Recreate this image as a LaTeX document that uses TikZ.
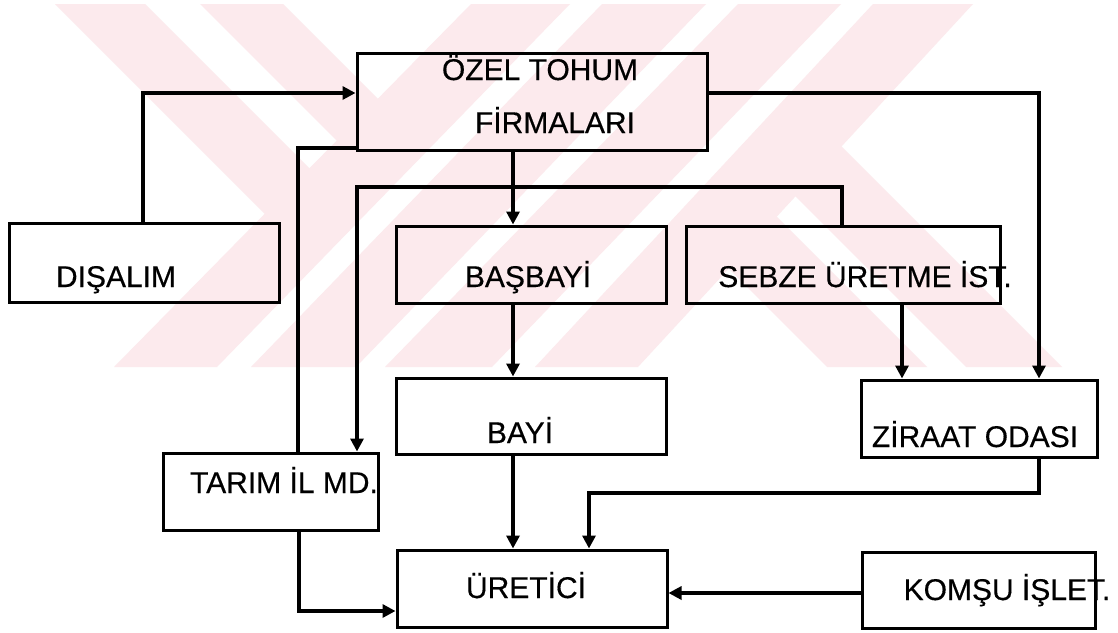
\documentclass[tikz,border=0pt]{standalone}
\usepackage{fontspec}
\setmainfont{Liberation Sans}[FakeBold=0.4]
\usetikzlibrary{arrows.meta,fit}
\definecolor{wm}{RGB}{252,234,237}
\begin{document}
\begin{tikzpicture}[x=0.5pt,y=-0.5pt,
  box/.style={draw=black, line width=1.5pt, inner sep=0pt, rectangle},
  lbl/.style={anchor=base, inner sep=0pt, font=\fontsize{15}{18}\selectfont},
  conn/.style={draw=black, line width=1.6pt},
  arr/.style={conn, -{Triangle[length=6.5pt,width=6.5pt]}},
  wmark/.style={fill=wm, draw=none}]
\useasboundingbox (0,0) rectangle (1118,632);
\fill[white] (0,0) rectangle (1118,632);
% watermark
\fill[wmark] (471,4) -- (570,4) -- (217,367) -- (114,367) -- cycle;
\fill[wmark] (602,4) -- (706,4) -- (356,367) -- (251,367) -- cycle;
\fill[wmark] (738,4) -- (841,4) -- (492,367) -- (385,367) -- cycle;
\fill[wmark] (873,4) -- (973,4) -- (638,367) -- (535,367) -- cycle;
\fill[wmark] (55,4) -- (145,4) -- (319,178) -- (274,223) -- cycle;
\fill[wmark] (200,4) -- (283,4) -- (387.8,108.8) -- (346.6,150.6) -- cycle;
\fill[wmark] (718.7,258.7) -- (766.7,206.7) -- (927,367) -- (827,367) -- cycle;
\fill[wmark] (785.4,186.4) -- (831.5,136.5) -- (1062,367) -- (966,367) -- cycle;
% boxes
\node[box, fit={(357,53) (707,150)}] (ozel) {};
\node[box, fit={(9,223) (279,302)}] (dis) {};
\node[box, fit={(396,226) (666,303)}] (bas) {};
\node[box, fit={(686,226) (1000,303)}] (sebze) {};
\node[box, fit={(396,378) (666,454)}] (bayi) {};
\node[box, fit={(163,453) (378,530)}] (tarim) {};
\node[box, fit={(397,550) (667,627)}] (uretici) {};
\node[box, fit={(861,380) (1097,457)}] (ziraat) {};
\node[box, fit={(862,552) (1095,628)}] (komsu) {};
% labels
\node[lbl] (t1) at (540,80) {ÖZEL TOHUM};
\node[lbl] (t2) at (555,133) {FİRMALARI};
\node[lbl] (t3) at (116,287) {DIŞALIM};
\node[lbl] (t4) at (528,287) {BAŞBAYİ};
\node[lbl] (t5) at (865,287) {SEBZE ÜRETME İST.};
\node[lbl] (t6) at (520,443) {BAYİ};
\node[lbl] (t7) at (284,493) {TARIM İL MD.};
\node[lbl] (t8) at (526,598) {ÜRETİCİ};
\node[lbl] (t9) at (975,447) {ZİRAAT ODASI};
\node[lbl] (t10) at (1007,600) {KOMŞU İŞLET.};
% bend points
\coordinate (c1) at (143,93);
\coordinate (c2) at (298,148);
\coordinate (c3) at (513,0);
\coordinate (c4) at (842,187);
\coordinate (c5) at (357,187);
\coordinate (c6) at (1039,93);
\coordinate (c7) at (902,0);
\coordinate (c8) at (1039,493);
\coordinate (c9) at (589,493);
\coordinate (c10) at (299,611);
\coordinate (c11) at (0,593);
% connectors
\draw[arr] (c1 |- dis.north) -- (c1) -- (c1 -| ozel.west);
\draw[conn] (c2 |- tarim.north) -- (c2) -- (c2 -| ozel.west);
\draw[arr] (c3 |- ozel.south) -- (c3 |- bas.north);
\draw[arr] (c4 |- sebze.north) -- (c4) -- (c5) -- (c5 |- tarim.north);
\draw[arr] (c6 -| ozel.east) -- (c6) -- (c6 |- ziraat.north);
\draw[arr] (c7 |- sebze.south) -- (c7 |- ziraat.north);
\draw[arr] (c3 |- bas.south) -- (c3 |- bayi.north);
\draw[arr] (c3 |- bayi.south) -- (c3 |- uretici.north);
\draw[arr] (c8 |- ziraat.south) -- (c8) -- (c9) -- (c9 |- uretici.north);
\draw[arr] (c10 |- tarim.south) -- (c10) -- (c10 -| uretici.west);
\draw[arr] (c11 -| komsu.west) -- (c11 -| uretici.east);
\end{tikzpicture}
\end{document}
